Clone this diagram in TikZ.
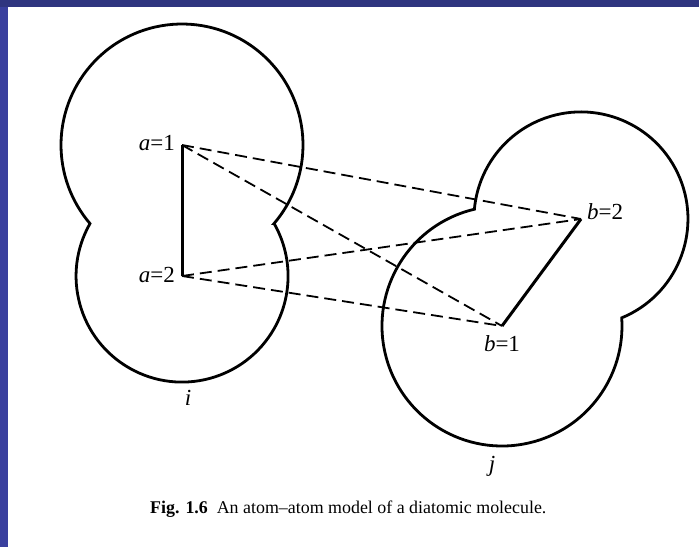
\documentclass[tikz,border=0pt]{standalone}
\usepackage{fontspec}
\setmainfont{Liberation Serif}
\begin{document}
\begin{tikzpicture}[x=1pt,y=1pt,
  outline/.style={line width=2.8pt, line join=miter},
  bond/.style={line width=3pt},
  link/.style={line width=1.8pt, dash pattern=on 12pt off 6pt},
  lab/.style={inner sep=0pt, font=\fontsize{23}{25}\selectfont},
  captext/.style={inner sep=0pt, font=\fontsize{17.9}{20}\selectfont}]
\useasboundingbox (0,0) rectangle (699,547);
\fill[white] (0,0) rectangle (699,547);
\fill[fill={rgb,255:red,47;green,53;blue,127}] (0,540) rectangle (699,547);
\fill[fill={rgb,255:red,58;green,64;blue,158}] (0,0) rectangle (8,540);
% atom centres
\coordinate (a1) at (182,402);
\coordinate (a2) at (182,271);
\coordinate (b1) at (502,221);
\coordinate (b2) at (581,328);
% molecular outlines
\draw[outline] (a1) ++(-40.5:121) arc[start angle=-40.5, end angle=220.5, radius=121]
  arc[start angle=150.3, end angle=389.7, radius=106] -- cycle;
\draw[outline] (b1) ++(103.3:120) arc[start angle=103.3, end angle=363.9, radius=120]
  arc[start angle=-67.6, end angle=174.7, radius=107] -- cycle;
% bonds
\draw[bond] (a1) -- (a2);
\draw[bond] (b1) -- (b2);
% site-site interactions
\draw[link] (a1) -- (b2);
\draw[link] (a1) -- (b1);
\draw[link] (a2) -- (b2);
\draw[link] (a2) -- (b1);
% labels
\node[lab, anchor=base east] (la1) at (175,396) {\textit{a}=1};
\node[lab, anchor=base east] (la2) at (175,264) {\textit{a}=2};
\node[lab, anchor=base west] (lb2) at (587,327) {\textit{b}=2};
\node[lab, anchor=base] (lb1) at (502,196) {\textit{b}=1};
\node[lab, anchor=base] (li) at (188,142) {\textit{i}};
\node[lab, anchor=base] (lj) at (492,76) {\textit{j}};
\node[captext, anchor=base west] (caption) at (150,34)
  {\textbf{Fig. 1.6}\enspace An atom–atom model of a diatomic molecule.};
\end{tikzpicture}
\end{document}
